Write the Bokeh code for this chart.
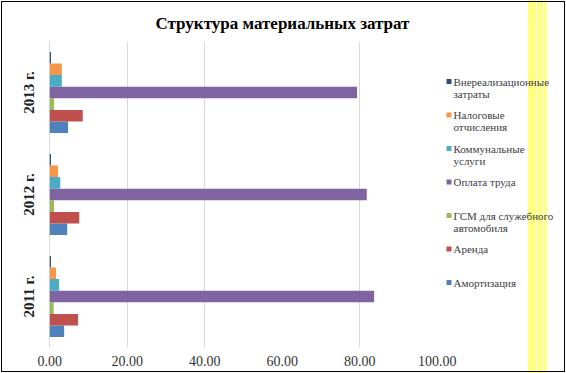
from bokeh.plotting import figure
from bokeh.models import Range1d, FactorRange, FixedTicker, PrintfTickFormatter, ColumnDataSource
from bokeh.transform import dodge
from bokeh.core.properties import value
from bokeh.embed import file_html
from bokeh.resources import INLINE

# ---------------- data ----------------
years = ["2011 г.", "2012 г.", "2013 г."]
series_names = [
    "Амортизация",
    "Аренда",
    "ГСМ для служебного автомобиля",
    "Оплата труда",
    "Коммунальные услуги",
    "Налоговые отчисления",
    "Внереализационные затраты",
]
amortization = [3.7, 4.5, 4.7]
rent = [7.3, 7.6, 8.5]
fuel = [1.0, 1.1, 1.1]
salary = [83.7, 81.8, 79.3]
utilities = [2.4, 2.7, 3.1]
taxes = [1.6, 2.1, 3.1]
non_operating = [0.3, 0.3, 0.3]
series_values = [amortization, rent, fuel, salary, utilities, taxes, non_operating]
colors = ["#4F81BD", "#C0504D", "#9BBB59", "#8064A2", "#4BACC6", "#F79646", "#2C4D75"]
x_ticks = [0, 20, 40, 60, 80, 100]
grid_ticks = [0, 20, 40, 80]

# legend (top to bottom), split in lines as drawn
legend_line1 = ["Внереализационные", "Налоговые", "Коммунальные", "Оплата труда",
                "ГСМ для служебного", "Аренда", "Амортизация"]
legend_line2 = ["затраты", "отчисления", "услуги", "", "автомобиля", "", ""]
legend_colors = list(reversed(colors))

# ---------------- layout ----------------
W, H = 566, 373
LEFT, TOP, BOTTOM = 48, 41, 26
PX_PER_UNIT = 3.875
X0 = -(49.3 - LEFT) / PX_PER_UNIT
X1 = X0 + (W - LEFT) / PX_PER_UNIT
FRAME_H = H - TOP - BOTTOM
BAR_H = 11.6 / (FRAME_H / len(years))

SERIF = "Liberation Serif"

p = figure(width=W, height=H, y_range=FactorRange(*years), x_range=Range1d(X0, X1),
           output_backend="svg", toolbar_location=None,
           min_border_left=LEFT, min_border_right=0, min_border_top=TOP,
           min_border_bottom=BOTTOM, title="Структура материальных затрат")

p.background_fill_alpha = 0
p.border_fill_alpha = 0
p.outline_line_color = None
p.styles = {
    "outline": "1px solid #000",
    "outline-offset": "-2px",
    "background": ("linear-gradient(to right, #ffffff 0px, #ffffff 528px, #ffff80 528px, "
                   "#ffff80 536px, #ffffff 536px, #ffffff 537px, #ffff80 537px, #ffff80 543px, "
                   "#ffffff 543px, #ffffff 544px, #ffff80 544px, #ffff80 547px, #ffffff 547px, #ffffff 100%)"),
}

p.title.align = "left"
p.title.offset = 107
p.title.text_font = SERIF
p.title.text_font_size = "17px"
p.title.text_font_style = "bold"
p.title.text_color = "#000000"
p.title.standoff = 18

source = ColumnDataSource(dict(year=years, **{f"s{i}": v for i, v in enumerate(series_values)}))
n = len(series_values)
for i, (name, col) in enumerate(zip(series_names, colors)):
    off = (i - (n - 1) / 2) * BAR_H
    p.hbar(y=dodge("year", off, range=p.y_range), left=0, right=f"s{i}", height=BAR_H,
           source=source, fill_color=col, line_color=None)

# grid
p.xgrid.ticker = FixedTicker(ticks=grid_ticks)
p.xgrid.grid_line_color = "#d9d9d9"
p.xgrid.grid_line_width = 1
p.ygrid.grid_line_color = None

# x axis
xa = p.xaxis[0]
xa.ticker = FixedTicker(ticks=x_ticks)
xa.formatter = PrintfTickFormatter(format="%.2f")
xa.axis_line_color = None
xa.major_tick_line_color = None
xa.minor_tick_line_color = None
xa.major_tick_out = 0
xa.major_tick_in = 0
xa.major_label_standoff = 8
xa.major_label_text_font = SERIF
xa.major_label_text_font_size = "14px"
xa.major_label_text_color = "#333333"

# y axis
ya = p.yaxis[0]
ya.axis_line_color = None
ya.major_tick_line_color = None
ya.minor_tick_line_color = None
ya.major_tick_out = 0
ya.major_tick_in = 0
ya.major_label_orientation = "vertical"
ya.major_label_standoff = 12
ya.major_label_text_font = SERIF
ya.major_label_text_font_size = "15px"
ya.major_label_text_font_style = "bold"
ya.major_label_text_color = "#222222"

# legend drawn as glyphs beside the plot
def px_to_x(px):
    return X0 + (px - LEFT) / PX_PER_UNIT

def py_to_y(py):
    return len(years) - (py - TOP) / (FRAME_H / len(years))

LEG_TOP, LEG_STEP = 81.0, 33.5
leg_y = [py_to_y(LEG_TOP + k * LEG_STEP) for k in range(len(legend_line1))]
leg = ColumnDataSource(dict(
    x=[px_to_x(448.5)] * len(leg_y), tx=[px_to_x(453)] * len(leg_y), y=leg_y,
    l1=legend_line1, l2=legend_line2, c=legend_colors))
p.scatter(x="x", y="y", marker="square", size=5, fill_color="c", line_color=None, source=leg)
p.text(x="tx", y="y", text="l1", source=leg, text_font=value(SERIF), text_font_size="11px",
       text_baseline="middle", text_align="left", text_color="#404040")
p.text(x="tx", y="y", text="l2", source=leg, text_font=value(SERIF), text_font_size="11px",
       text_baseline="middle", text_align="left", text_color="#404040", y_offset=12)

open("out.html", "w").write(file_html(p, INLINE))
